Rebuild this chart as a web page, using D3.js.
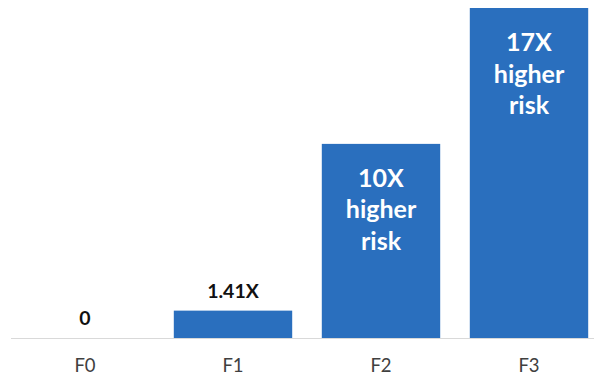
<!DOCTYPE html>
<html>
<head>
<meta charset="utf-8">
<script src="https://cdn.jsdelivr.net/npm/d3@7"></script>
<style>
  html, body { margin: 0; padding: 0; background: #fff; }
  svg { display: block; }
</style>
</head>
<body>
<svg id="chart" width="594" height="380"></svg>
<script>
// Fibrosis stage and relative risk
const categories = ["F0", "F1", "F2", "F3"];
const values = [0, 1.41, 10, 17];
const valueLabels = ["0", "1.41X", "10X", "17X"];
const insideLabel = [false, false, true, true];

const svg = d3.select("#chart");
const W = 594, H = 380;
const font = "Lato, 'Open Sans', sans-serif";
const barColor = "#2a6fbe";

const x = d3.scaleBand()
  .domain(categories)
  .range([11, 603])
  .paddingInner(0.2)
  .paddingOuter(0.1);

const y = d3.scaleLinear()
  .domain([0, 17])
  .range([338, 8]);

// bars
svg.append("g").selectAll("rect")
  .data(categories)
  .join("rect")
  .attr("x", d => x(d))
  .attr("width", x.bandwidth())
  .attr("y", (d, i) => y(values[i]))
  .attr("height", (d, i) => y(0) - y(values[i]))
  .attr("fill", barColor);

// category axis
const axis = svg.append("g")
  .attr("transform", `translate(0,${y(0)})`)
  .call(d3.axisBottom(x).tickSize(0).tickPadding(21));
axis.select(".domain").attr("stroke", "#d9d9d9").attr("stroke-width", 1.2)
  .attr("d", `M11,0.5H${W}`);
axis.selectAll("text")
  .attr("font-family", font)
  .attr("font-size", 18.5)
  .attr("fill", "#404040");

// labels above short bars
svg.append("g").selectAll("text")
  .data(categories.filter((d, i) => !insideLabel[i]))
  .join("text")
  .attr("x", d => x(d) + x.bandwidth() / 2)
  .attr("y", d => y(values[categories.indexOf(d)]) - 13)
  .attr("text-anchor", "middle")
  .attr("font-family", font)
  .attr("font-weight", "bold")
  .attr("font-size", 19.5)
  .attr("fill", "#111")
  .text(d => valueLabels[categories.indexOf(d)]);

// labels inside tall bars
const inner = svg.append("g").selectAll("text")
  .data(categories.filter((d, i) => insideLabel[i]))
  .join("text")
  .attr("text-anchor", "middle")
  .attr("font-family", font)
  .attr("font-weight", "bold")
  .attr("font-size", 25)
  .attr("fill", "#fff");
inner.each(function(d) {
  const i = categories.indexOf(d);
  const cx = x(d) + x.bandwidth() / 2;
  const top = y(values[i]) + 43;
  const lines = [valueLabels[i], "higher", "risk"];
  d3.select(this).selectAll("tspan")
    .data(lines)
    .join("tspan")
    .attr("x", cx)
    .attr("y", (t, k) => top + k * 31.5)
    .text(t => t);
});
</script>
</body>
</html>
